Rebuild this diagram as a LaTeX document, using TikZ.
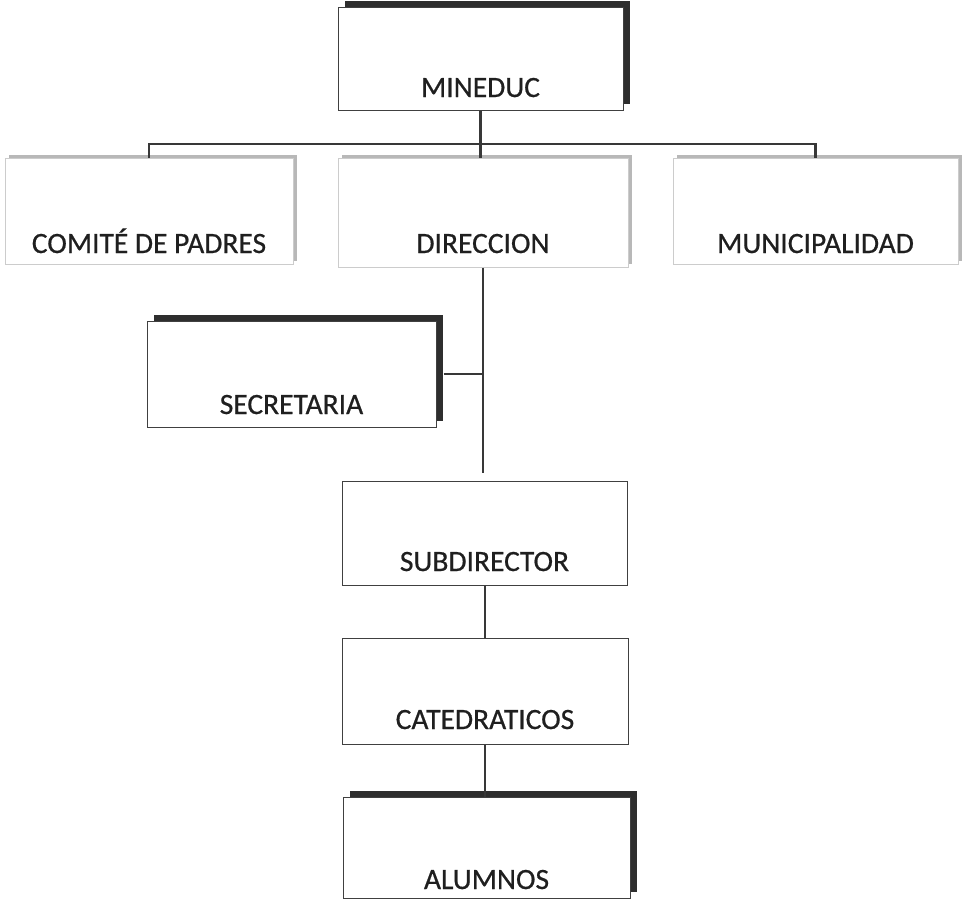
\documentclass[tikz,border=0pt]{standalone}
\usepackage{fontspec}
\setmainfont{Carlito}
\newfontfamily\lblfont{Carlito}[FakeBold=0.6]
\usetikzlibrary{shadows}
\begin{document}
\begin{tikzpicture}[x=1pt,y=-1pt,
  orgbox/.style={draw=black!75, line width=1pt, fill=white, inner sep=0pt,
    font=\lblfont\fontsize{29.5}{29.5}\selectfont, text=black!88},
  darkshadow/.style={general shadow={fill=black!82, shadow xshift=7pt, shadow yshift=6pt}},
  lightbox/.style={draw=black!20, general shadow={fill=black!28, shadow xshift=4pt, shadow yshift=3pt}},
  conn/.style={draw=black!78, line width=2.4pt}]
\useasboundingbox (0,0) rectangle (969,900);
\node[orgbox, darkshadow, minimum width=285pt, text height=90pt, text depth=13pt] (min) at (480.5,58.5) {MINEDUC};
\node[orgbox, lightbox, minimum width=288pt, text height=95pt, text depth=11pt] (com) at (149,211) {COMITÉ DE PADRES};
\node[orgbox, lightbox, minimum width=290pt, text height=95pt, text depth=14pt] (dir) at (483,212.5) {DIRECCION};
\node[orgbox, lightbox, minimum width=285pt, text height=95pt, text depth=11pt] (mun) at (815.5,211) {MUNICIPALIDAD};
\node[orgbox, darkshadow, minimum width=289pt, text height=93pt, text depth=13pt] (sec) at (291.5,374) {SECRETARIA};
\node[orgbox, minimum width=285pt, text height=90pt, text depth=14pt] (sub) at (484.5,533) {SUBDIRECTOR};
\node[orgbox, minimum width=286pt, text height=91pt, text depth=15pt] (cat) at (485,691) {CATEDRATICOS};
\node[orgbox, darkshadow, minimum width=287pt, text height=92pt, text depth=9pt] (alu) at (486.5,847.5) {ALUMNOS};
\coordinate (bus) at (0,144);
\draw[conn] (min.south) -- (min.south |- dir.north);
\draw[conn] (com.north) -- (com.north |- bus) -| (mun.north);
\draw[conn, shorten >=8pt] (dir.south) -- (dir.south |- sub.north);
\draw[conn, line width=2pt] (sec.east) ++(7pt,0) -- (sec.east -| dir.south);
\draw[conn, line width=2pt] (sub.south) -- (sub.south |- cat.north);
\draw[conn, line width=2pt] (cat.south) -- (cat.south |- alu.north);
\end{tikzpicture}
\end{document}
